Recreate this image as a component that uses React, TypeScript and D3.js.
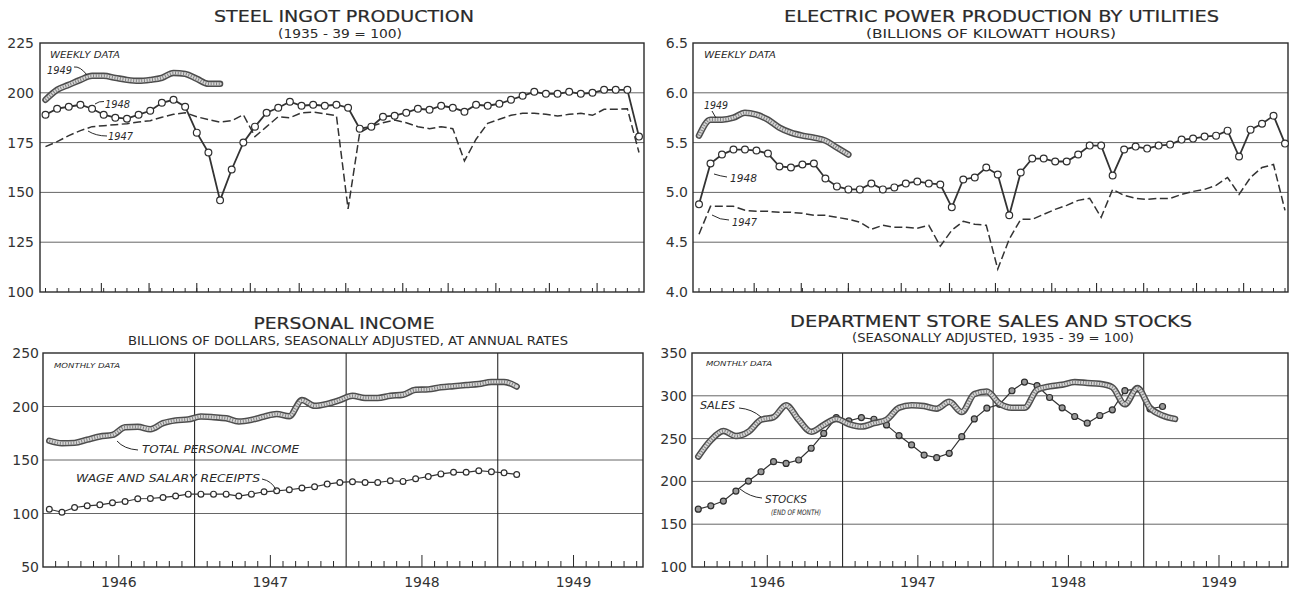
import { useEffect, useRef } from 'react';
import * as d3 from 'd3';

// ---- weekly series (week index 0..51) ----
const steel1949 = [196.5, 201.5, 204, 206.5, 208.5, 208.5, 207.5, 206.5, 206, 206.5, 207.5, 210, 209.5, 207, 204.5, 204.5];
const steel1948 = [
  189, 192, 193, 194, 192, 189, 187.5, 187, 189, 191,
  195, 196.5, 193, 180, 170, 146, 161.5, 175, 183, 190,
  192.5, 195.5, 193.5, 194, 193.5, 194, 192.5, 182, 183, 188,
  188.5, 190, 192, 191.5, 193.5, 192.5, 190.5, 194, 193.5, 194.5,
  196.5, 198.5, 200.5, 199.5, 199.5, 200.5, 199.5, 200, 201.5, 201.5,
  201.5, 178,
];
const steel1947 = [
  173, 175.5, 178.5, 181, 183, 183.5, 184, 184.5, 185.3, 186,
  187.7, 189.2, 190, 188, 186.5, 185.3, 186, 189, 178, 183,
  188, 187.5, 190, 190.3, 189.5, 188.5, 141.7, 180, 183.3, 185,
  186.3, 185, 183, 182, 183, 182, 165.8, 176.7, 184.7, 186.7,
  188.7, 189.7, 189.7, 189.2, 188.3, 189.2, 189.7, 188.7, 191.7, 191.7,
  192, 170,
];

const power1949 = [5.57, 5.73, 5.73, 5.75, 5.8, 5.78, 5.73, 5.65, 5.6, 5.57, 5.55, 5.52, 5.45, 5.38];
const power1948 = [
  4.88, 5.29, 5.38, 5.43, 5.43, 5.42, 5.39, 5.26, 5.25, 5.28,
  5.29, 5.14, 5.06, 5.03, 5.03, 5.09, 5.03, 5.05, 5.09, 5.11,
  5.09, 5.08, 4.85, 5.13, 5.15, 5.25, 5.18, 4.77, 5.2, 5.34,
  5.34, 5.31, 5.31, 5.38, 5.47, 5.47, 5.17, 5.43, 5.46, 5.44,
  5.47, 5.48, 5.53, 5.54, 5.56, 5.57, 5.62, 5.36, 5.63, 5.69,
  5.77, 5.49,
];
const power1947 = [
  4.58, 4.86, 4.86, 4.86, 4.82, 4.81, 4.81, 4.8, 4.8, 4.79,
  4.77, 4.77, 4.75, 4.73, 4.7, 4.63, 4.67, 4.65, 4.65, 4.64,
  4.67, 4.46, 4.62, 4.71, 4.68, 4.67, 4.23, 4.53, 4.73, 4.73,
  4.78, 4.83, 4.87, 4.92, 4.94, 4.75, 5.03, 4.97, 4.94, 4.93,
  4.94, 4.94, 4.98, 5.01, 5.03, 5.07, 5.15, 4.98, 5.15, 5.25,
  5.28, 4.82,
];

// ---- monthly series (month 0 = Jan 1946) ----
const totalIncome = [
  168, 165.6, 166, 169, 172, 173.4, 180.6, 181, 178.8, 184.4,
  187, 188, 190.6, 190, 189, 186, 187.5, 190.6, 193, 191,
  206, 200.6, 202.5, 206, 210, 208, 208, 210, 211, 215.6,
  216, 218, 219, 220, 221, 223, 223, 218.7,
];
const wageSalary = [
  104, 101.2, 105.6, 107.2, 108.1, 110, 111.2, 113.8, 114, 115,
  116.3, 118.1, 118.1, 118.1, 118.1, 116.3, 118.1, 120.3, 121.2, 122.2,
  123.8, 125, 127.5, 129, 129.7, 129, 129, 130.6, 130, 132.5,
  134.5, 137, 138.5, 138.5, 140, 139, 138, 136.5,
];
const storeSales = [
  229, 248, 259, 253, 258, 272, 275, 289, 272, 258,
  266, 273, 267, 264, 268, 272, 286, 289, 288, 285,
  293, 281, 302, 305, 291, 286, 286, 307, 311, 313,
  316, 315, 314, 310, 290, 309, 286, 277, 273,
];
const storeStocks = [
  167.6, 171.5, 177, 188.7, 200.4, 211.3, 223, 221, 225, 238.7,
  256, 274.6, 270.7, 274.6, 272.6, 266, 253.5, 242.6, 230.8, 227.7,
  232.8, 252.3, 273, 285.5, 290, 305.9, 316, 312, 298, 286,
  275.8, 268, 277, 283.6, 306, 308, 284.8, 287.5,
];

// ---- axes ----
const steelTicks = [100, 125, 150, 175, 200, 225];
const powerTicks = [4.0, 4.5, 5.0, 5.5, 6.0, 6.5];
const incomeTicks = [50, 100, 150, 200, 250];
const storeTicks = [100, 150, 200, 250, 300, 350];
const yearLabels = ['1946', '1947', '1948', '1949'];
// month boundaries expressed in week index
const weekMonthTicks = [4.8, 8.9, 13.0, 17.6, 21.8, 25.8, 30.7, 34.6, 38.7, 43.3, 47.4];

const INK = '#2a2a2a';
const FONT = '"DejaVu Sans", sans-serif';

type Sel = d3.Selection<SVGGElement, unknown, null, undefined>;
type Pt = [number, number];

function bandLine(g: Sel, pts: Pt[]) {
  const line = d3.line().curve(d3.curveMonotoneX);
  const d = line(pts) || '';
  g.append('path').attr('d', d).attr('fill', 'none').attr('stroke', '#4d4d4d')
    .attr('stroke-width', 6.5).attr('stroke-linecap', 'round').attr('stroke-linejoin', 'round');
  g.append('path').attr('d', d).attr('fill', 'none').attr('stroke', '#d6d6d6')
    .attr('stroke-width', 3.4).attr('stroke-linecap', 'round');
  g.append('path').attr('d', d).attr('fill', 'none').attr('stroke', '#808080')
    .attr('stroke-width', 3.2).attr('stroke-dasharray', '1 1.7');
}

function circleLine(g: Sel, pts: Pt[], r: number, fill: string, width: number) {
  g.append('path').attr('d', d3.line()(pts) || '').attr('fill', 'none')
    .attr('stroke', '#333').attr('stroke-width', width);
  g.selectAll(null).data(pts).enter().append('circle')
    .attr('cx', (p) => p[0]).attr('cy', (p) => p[1]).attr('r', r)
    .attr('fill', fill).attr('stroke', '#2e2e2e').attr('stroke-width', 1.2);
}

function dashLine(g: Sel, pts: Pt[]) {
  g.append('path').attr('d', d3.line()(pts) || '').attr('fill', 'none')
    .attr('stroke', '#333').attr('stroke-width', 1.5).attr('stroke-dasharray', '8 3.5');
}

function label(g: Sel, x: number, y: number, s: string, size: number, opts: { italic?: boolean; len?: number; anchor?: string } = {}) {
  const t = g.append('text').attr('x', x).attr('y', y).attr('font-family', FONT)
    .attr('font-size', size).attr('fill', INK).attr('text-anchor', opts.anchor || 'start')
    .attr('font-style', opts.italic ? 'italic' : 'normal').text(s);
  if (opts.len) t.attr('textLength', opts.len).attr('lengthAdjust', 'spacingAndGlyphs');
  return t;
}

function leader(g: Sel, d: string) {
  g.append('path').attr('d', d).attr('fill', 'none').attr('stroke', INK).attr('stroke-width', 1);
}

interface Frame { x0: number; x1: number; y0: number; y1: number }

function drawFrame(g: Sel, f: Frame, y: d3.ScaleLinear<number, number>, ticks: number[], labelX: number, fmt: (v: number) => string) {
  g.selectAll(null).data(ticks.slice(1, -1)).enter().append('line')
    .attr('x1', f.x0).attr('x2', f.x1).attr('y1', (v) => y(v)).attr('y2', (v) => y(v))
    .attr('stroke', '#555').attr('stroke-width', 0.9);
  g.append('rect').attr('x', f.x0).attr('y', f.y0).attr('width', f.x1 - f.x0).attr('height', f.y1 - f.y0)
    .attr('fill', 'none').attr('stroke', INK).attr('stroke-width', 1.4);
  g.selectAll(null).data(ticks).enter().append('text')
    .attr('x', labelX).attr('y', (v) => y(v)).attr('dy', '0.36em')
    .attr('text-anchor', 'end').attr('font-family', FONT).attr('font-size', 14)
    .attr('fill', '#333').text((v) => fmt(v));
}

function titles(g: Sel, cx: number, ty: number, title: string, tLen: number, sx: number, sy: number, sub: string, sLen: number) {
  label(g, cx, ty, title, 16, { anchor: 'middle', len: tLen })
    .attr('stroke', INK).attr('stroke-width', 0.2);
  label(g, sx, sy, sub, 12, { anchor: 'middle', len: sLen });
}

function weeklyPanel(g: Sel, f: Frame, x: d3.ScaleLinear<number, number>) {
  d3.range(0, 52).forEach((i) => {
    g.append('line').attr('x1', x(i)).attr('x2', x(i)).attr('y1', f.y1).attr('y2', f.y1 - 4)
      .attr('stroke', INK).attr('stroke-width', 1);
  });
  weekMonthTicks.forEach((w) => {
    g.append('line').attr('x1', x(w)).attr('x2', x(w)).attr('y1', f.y1).attr('y2', f.y1 - 9)
      .attr('stroke', INK).attr('stroke-width', 1.1);
  });
}

function monthlyPanel(g: Sel, f: Frame, x: d3.ScaleLinear<number, number>) {
  d3.range(1, 48).forEach((m) => {
    if (m % 12 === 0) {
      g.append('line').attr('x1', x(m)).attr('x2', x(m)).attr('y1', f.y0).attr('y2', f.y1)
        .attr('stroke', INK).attr('stroke-width', 1.1);
      return;
    }
    const h = m % 12 === 6 ? 12 : 6;
    g.append('line').attr('x1', x(m)).attr('x2', x(m)).attr('y1', f.y1).attr('y2', f.y1 - h)
      .attr('stroke', INK).attr('stroke-width', 1);
  });
  yearLabels.forEach((yr, i) => {
    label(g, x(i * 12 + 6), 587, yr, 14, { anchor: 'middle' }).attr('fill', '#333');
  });
}

export default function App() {
  const svgRef = useRef<SVGSVGElement>(null);

  useEffect(() => {
    if (!svgRef.current) return;
    const svg = d3.select(svgRef.current);
    svg.selectAll('*').remove();
    svg.append('rect').attr('width', 1292).attr('height', 589).attr('fill', '#fff');
    const root = svg.append('g') as unknown as Sel;

    // ---------- Steel ingot production ----------
    {
      const f = { x0: 40, x1: 644, y0: 43, y1: 292 };
      const g = root.append('g');
      const x = d3.scaleLinear().domain([0, 51]).range([45.5, 639]);
      const y = d3.scaleLinear().domain([100, 225]).range([f.y1, f.y0]);
      drawFrame(g, f, y, steelTicks, 34, (v) => String(v));
      weeklyPanel(g, f, x);
      titles(g, 344, 21.5, 'STEEL  INGOT  PRODUCTION', 260, 340, 37.5, '(1935 - 39 = 100)', 124);
      label(g, 50, 58, 'WEEKLY DATA', 8, { italic: true, len: 70 });
      dashLine(g, steel1947.map((v, i) => [x(i), y(v)] as Pt));
      circleLine(g, steel1948.map((v, i) => [x(i), y(v)] as Pt), 3.4, '#fff', 1.8);
      bandLine(g, steel1949.map((v, i) => [x(i), y(v)] as Pt));
      label(g, 47, 73.5, '1949', 10.5, { italic: true, len: 25 });
      leader(g, 'M74,67 Q80,66 87,75');
      label(g, 105, 107.5, '1948', 10.5, { italic: true, len: 25 });
      leader(g, 'M95,104 Q99,101 104,101.5');
      label(g, 108, 140, '1947', 10.5, { italic: true, len: 25 });
      leader(g, 'M88,131 Q96,136 107,136');
    }

    // ---------- Electric power ----------
    {
      const f = { x0: 693, x1: 1288, y0: 43, y1: 292 };
      const g = root.append('g');
      const x = d3.scaleLinear().domain([0, 51]).range([699, 1285]);
      const y = d3.scaleLinear().domain([4.0, 6.5]).range([f.y1, f.y0]);
      drawFrame(g, f, y, powerTicks, 688, d3.format('.1f'));
      weeklyPanel(g, f, x);
      titles(g, 1001.5, 21.5, 'ELECTRIC  POWER  PRODUCTION  BY  UTILITIES', 435, 991, 37.5, '(BILLIONS  OF  KILOWATT  HOURS)', 250);
      label(g, 704, 58, 'WEEKLY DATA', 8, { italic: true, len: 72 });
      dashLine(g, power1947.map((v, i) => [x(i), y(v)] as Pt));
      circleLine(g, power1948.map((v, i) => [x(i), y(v)] as Pt), 3.4, '#fff', 1.8);
      bandLine(g, power1949.map((v, i) => [x(i), y(v)] as Pt));
      label(g, 704, 108.5, '1949', 10.5, { italic: true, len: 24 });
      leader(g, 'M712,111 L716,118');
      label(g, 730, 182, '1948', 10.5, { italic: true, len: 27 });
      leader(g, 'M714,174 Q720,176 727,177');
      label(g, 732, 226, '1947', 10.5, { italic: true, len: 25 });
      leader(g, 'M712,215 Q720,220 729,220');
    }

    // ---------- Personal income ----------
    {
      const f = { x0: 43, x1: 643, y0: 353, y1: 567 };
      const g = root.append('g');
      const x = d3.scaleLinear().domain([0, 47.5]).range([f.x0, f.x1]);
      const y = d3.scaleLinear().domain([50, 250]).range([f.y1, f.y0]);
      drawFrame(g, f, y, incomeTicks, 39, (v) => String(v));
      monthlyPanel(g, f, x);
      titles(g, 344, 329, 'PERSONAL  INCOME', 181, 348, 345,
        'BILLIONS  OF  DOLLARS,  SEASONALLY  ADJUSTED,  AT  ANNUAL  RATES', 440);
      label(g, 54, 368, 'MONTHLY  DATA', 7, { italic: true, len: 66 });
      circleLine(g, wageSalary.map((v, i) => [x(i + 0.5), y(v)] as Pt), 2.9, '#fff', 1.2);
      bandLine(g, totalIncome.map((v, i) => [x(i + 0.5), y(v)] as Pt));
      label(g, 142, 453, 'TOTAL  PERSONAL  INCOME', 10, { italic: true, len: 157 });
      leader(g, 'M117,441 Q124,449 138,450');
      label(g, 76, 482, 'WAGE  AND  SALARY  RECEIPTS', 10, { italic: true, len: 184 });
      leader(g, 'M262,479 Q272,481 276,490');
    }

    // ---------- Department store sales and stocks ----------
    {
      const f = { x0: 692, x1: 1288, y0: 353, y1: 567 };
      const g = root.append('g');
      const x = d3.scaleLinear().domain([0, 47.5]).range([f.x0, f.x1]);
      const y = d3.scaleLinear().domain([100, 350]).range([f.y1, f.y0]);
      drawFrame(g, f, y, storeTicks, 687, (v) => String(v));
      monthlyPanel(g, f, x);
      titles(g, 991, 326.5, 'DEPARTMENT  STORE  SALES  AND  STOCKS', 402, 993, 341.5,
        '(SEASONALLY  ADJUSTED,  1935 - 39 = 100)', 282);
      label(g, 706, 366, 'MONTHLY  DATA', 7, { italic: true, len: 66 });
      circleLine(g, storeStocks.map((v, i) => [x(i + 0.5), y(v)] as Pt), 3, '#9a9a9a', 1.2);
      bandLine(g, storeSales.map((v, i) => [x(i + 0.5), y(v)] as Pt));
      label(g, 700, 409, 'SALES', 10, { italic: true, len: 35 });
      leader(g, 'M739,408 Q752,409 761,417');
      label(g, 765, 503, 'STOCKS', 10, { italic: true, len: 42 });
      label(g, 771, 514.5, '(END OF MONTH)', 7.5, { italic: true, len: 50 });
      leader(g, 'M740,489 Q750,497 762,498');
    }
  }, []);

  return (
    <svg
      ref={svgRef}
      width={1292}
      height={589}
      style={{ position: 'absolute', left: 0, top: 0, background: '#fff' }}
    />
  );
}
